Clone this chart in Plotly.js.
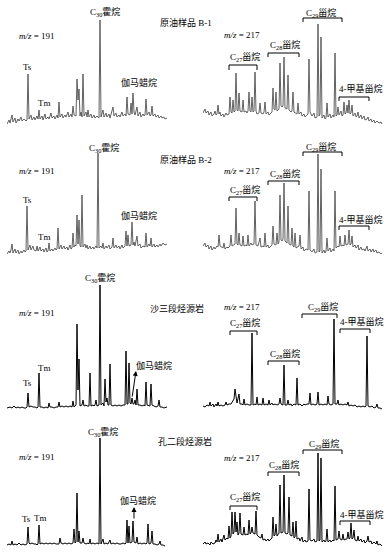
<!DOCTYPE html>
<html><head><meta charset="utf-8">
<script src="https://cdn.plot.ly/plotly-3.0.1.min.js"></script>
<style>html,body{margin:0;padding:0;background:#fff}#chart{width:390px;height:552px}</style>
</head><body><div id="chart"></div>
<script>
// Retention positions (arbitrary units) and relative intensities
// Row 1: crude oil B-1
const rtB1_191 = [0,2,3,5,6,8,9,11,12,14,15,17,19,20,21,22,24,25,27,28,30,31,32,33,35,36,38,39,41,42,44,45,47,48,50,51,52,53,55,56,58,59,61,62,64,65,66,67,69,70,71,72,73,74,75,76,77,79,80,81,82,84,85,87,88,90,92,93,94,95,96,97,99,100,102,103,105,106,107,109,110,112,113,115,116,118,119,120,121,123,124,125,126,127,128,130,131,133,134,136,137,138,139,140,142,143,144,145,146,148,149,151,152,154,155,157,158,160];
const inB1_191 = [2,6,3,11,4,8,3,7,5,9,5,7,5,6,52,7,11,6,9,6,10,7,16,7,10,6,12,7,9,7,13,8,10,7,11,8,24,9,12,8,11,9,14,9,12,9,20,11,10,47,26,37,10,14,9,52,10,14,9,16,9,12,8,11,8,10,8,106,9,12,16,9,13,9,12,8,14,19,10,13,9,11,9,14,10,12,10,29,12,11,23,12,33,14,11,19,10,14,9,12,10,11,27,11,14,10,11,20,10,12,9,11,8,10,8,9,7,8];
const rtB1_217 = [0,2,3,5,6,8,9,11,12,13,14,15,16,17,18,20,21,23,24,26,27,28,29,30,31,32,33,34,35,36,37,39,40,41,43,44,45,46,47,48,49,50,51,52,53,54,56,57,58,60,61,62,63,65,66,68,69,70,71,72,73,74,76,77,78,79,80,81,82,84,85,86,88,89,90,91,93,94,95,96,98,99,101,102,104,105,106,107,109,111,112,114,115,116,117,118,119,121,122,123,124,125,127,128,130,131,132,133,134,135,136,138,139,140,141,142,143,144,145,146,147,148,149,150,152,153,154,155,156,158,159,161,162,164,165,166,168,169,171,172,174,176,178,179];
const inB1_217 = [13,17,13,15,11,14,10,12,15,11,12,21,12,14,10,12,9,13,11,12,29,14,13,26,14,15,53,16,15,33,15,14,26,14,15,13,15,34,15,14,29,14,15,54,15,12,13,23,13,12,14,24,12,14,11,13,14,38,17,16,34,15,17,63,20,19,20,69,18,17,51,16,14,15,34,14,13,12,23,12,14,10,12,9,11,12,67,14,10,13,8,9,102,10,12,89,8,11,7,8,23,9,12,8,11,9,73,10,11,19,11,15,10,11,24,12,13,21,13,26,12,13,21,10,13,9,10,14,8,11,7,10,6,7,9,5,7,4,6,3,5,3,4,2];
// Row 2: crude oil B-2
const rtB2_191 = [0,2,3,4,5,6,8,9,11,12,14,15,17,18,19,20,21,23,24,26,27,29,30,31,33,34,36,37,39,40,41,42,43,45,46,48,49,50,51,52,54,55,57,58,60,61,63,64,65,66,67,68,69,70,71,72,73,74,75,76,78,79,80,81,83,84,86,87,89,90,91,92,94,95,96,97,99,100,102,103,105,106,107,109,110,112,113,115,116,118,119,120,121,122,124,125,126,127,128,130,131,133,134,136,138,139,140,142,143,144,145,147,148,150,151,153,154,156,158,160];
const inB2_191 = [4,7,5,8,14,5,9,5,8,4,7,5,8,6,7,52,8,13,8,12,8,7,12,7,11,7,9,6,10,6,7,15,7,9,7,10,8,9,30,9,13,9,12,9,11,8,13,9,10,25,11,13,12,43,14,38,12,11,63,11,14,10,13,9,12,9,11,9,12,10,105,10,12,10,15,9,12,10,13,9,11,20,10,13,10,12,9,13,10,12,27,12,23,12,13,36,13,16,12,22,12,14,10,12,11,25,11,14,12,20,11,14,11,13,11,14,12,15,13,14];
const rtB2_217 = [0,2,3,5,6,8,9,11,12,14,15,16,17,19,20,21,22,24,25,27,28,29,31,32,33,34,35,36,37,39,40,41,43,44,45,46,48,49,51,52,53,55,57,58,60,61,62,63,65,66,68,69,70,71,73,74,75,76,77,78,79,80,81,82,84,85,86,88,89,90,91,92,93,95,96,97,98,100,101,103,105,106,107,109,111,112,114,115,116,117,118,119,121,122,123,124,125,127,128,130,131,132,133,135,136,137,138,140,141,142,143,145,146,147,148,149,150,152,153,154,155,156,158,159,161,162,164,165,167,168,170,171,173,174,176,178,179];
const inB2_217 = [12,15,11,13,9,12,8,11,9,12,11,23,12,11,10,15,9,11,10,12,23,12,13,14,50,14,13,25,13,12,22,12,13,12,23,12,15,13,14,57,13,12,20,11,12,11,25,11,13,10,12,13,32,14,13,25,14,16,63,18,17,19,75,17,15,52,14,13,30,12,11,25,10,11,12,23,9,11,7,9,8,67,8,6,9,5,6,104,6,7,89,5,8,5,7,20,7,10,6,9,7,67,10,12,11,22,12,13,12,23,13,14,28,13,14,22,11,13,10,11,13,8,11,8,9,7,12,7,9,6,9,6,8,5,6,4,5];
// Row 3: Es3 source rock
const rtS3_191 = [0,3,5,7,9,11,13,15,17,19,20,21,22,24,26,28,30,31,32,33,35,37,39,41,42,43,45,47,49,51,52,53,55,57,59,61,63,65,66,67,68,69,70,71,72,73,75,76,77,79,80,82,83,84,86,87,88,89,90,91,92,93,94,96,97,98,99,100,101,102,103,104,106,108,110,112,114,116,118,119,120,121,122,123,124,125,126,127,128,129,130,131,133,135,137,138,139,140,142,143,144,145,147,149,151,152,153,155,157,160];
const inS3_191 = [2,3,2,4,2,3,2,3,2,2,3,17,3,4,3,3,2,3,37,3,3,2,3,2,7,3,3,2,3,3,8,3,4,3,4,3,4,3,9,3,4,5,86,20,51,4,5,10,4,5,4,4,37,4,5,4,5,10,4,5,5,125,5,7,4,31,8,12,5,5,46,5,4,5,4,5,4,5,5,59,6,6,47,7,6,12,6,6,10,5,21,5,5,4,5,4,28,5,4,4,26,5,4,3,4,10,3,3,2,3];
const rtS3_217 = [0,2,4,6,7,8,10,11,13,14,15,16,18,20,22,23,24,26,28,30,31,32,33,34,36,37,39,40,41,42,44,46,48,49,50,52,53,54,55,57,59,60,61,63,65,66,67,69,70,72,74,76,77,78,80,81,82,84,85,86,88,89,91,93,94,95,97,99,101,102,104,106,107,108,110,112,114,115,116,118,120,122,124,125,126,128,130,131,132,134,135,136,138,140,142,144,145,146,148,150,152,154,156,158,160,162,163,164,165,167,169,171,173,174,175,177,179];
const inS3_217 = [4,3,5,4,8,4,6,3,6,4,8,4,5,4,5,8,5,6,6,9,11,21,10,7,16,6,6,5,11,5,6,5,5,77,5,6,5,13,5,6,5,12,5,6,5,10,5,7,5,6,5,6,12,6,5,45,5,5,10,5,6,4,6,5,32,5,6,4,6,5,6,6,17,5,6,5,6,18,5,6,5,6,5,14,6,5,6,91,6,6,10,5,6,5,6,5,8,4,5,4,5,3,4,3,4,3,4,74,4,3,4,2,3,6,2,2,1];
// Row 4: Ek2 source rock
const rtK2_191 = [0,2,4,5,6,8,10,12,14,16,18,19,20,21,22,23,25,27,29,30,31,32,33,35,37,39,41,43,45,47,49,51,52,53,54,56,58,60,62,64,66,67,68,69,70,71,72,73,75,76,77,79,81,82,83,84,86,88,90,92,93,94,96,97,99,101,103,104,106,108,110,112,114,116,118,119,120,121,122,123,125,126,127,129,130,131,133,135,137,139,140,141,142,144,145,146,148,150,152,153,154,156,158];
const inK2_191 = [3,4,3,7,3,4,3,5,3,4,3,4,4,21,5,4,5,4,4,3,4,23,4,5,4,5,4,5,4,5,4,4,4,10,5,4,5,4,5,4,5,19,5,6,55,6,17,5,5,10,5,4,5,4,9,4,5,4,5,4,110,4,9,4,5,4,8,4,5,4,5,4,4,5,4,5,28,5,22,5,6,27,6,5,11,4,5,4,5,4,5,24,4,5,17,4,4,3,4,7,3,3,2];
const rtK2_217 = [0,2,3,5,7,8,10,12,13,14,15,16,18,19,21,22,24,25,26,27,28,29,30,31,32,33,34,35,36,37,38,40,41,42,44,45,46,47,48,49,50,52,53,54,56,58,59,60,62,63,65,66,68,69,70,71,72,73,74,76,77,78,80,81,82,84,85,86,87,89,90,91,92,93,94,96,97,99,100,102,103,105,106,107,109,111,112,114,115,116,117,118,119,121,122,123,124,125,127,128,130,131,132,133,135,136,137,139,140,141,143,144,145,146,147,148,149,150,151,152,154,155,156,158,159,161,162,164,165,166,168,169,171,173,174,175,177,179];
const inK2_217 = [4,6,4,5,3,6,4,5,8,6,14,6,9,6,13,8,10,9,22,10,12,36,14,16,36,16,26,13,15,35,14,13,21,13,14,13,28,14,15,21,15,14,37,13,11,10,14,8,9,7,9,7,9,10,31,12,13,24,12,15,63,15,16,73,15,14,15,51,13,12,26,10,11,27,9,10,7,11,6,8,6,7,59,8,7,9,6,7,95,7,8,90,6,8,6,7,19,6,8,6,8,7,62,8,9,17,9,8,14,8,9,9,16,9,10,25,9,10,18,8,7,12,7,9,6,8,5,7,12,6,7,4,6,4,7,3,4,2];

const sampleNames = ['原油样品 B-1','原油样品 B-2','沙三段烃源岩','孔二段烃源岩'];
const ionLabels = ['<i>m/z</i> = 191','<i>m/z</i> = 217'];

const W = 390, H = 552;
const FAMILY = "'Liberation Serif','Noto Sans CJK SC',serif";
const px = x => x / W, py = y => 1 - y / H;
const rows = [{top:10,bottom:126,color:'#505050',w:0.9},{top:140,bottom:258,color:'#505050',w:0.9},
              {top:280,bottom:410,color:'#000',w:1.0},{top:418,bottom:548,color:'#000',w:1.0}];
const cols = [{left:7,right:167},{left:203,right:383}];
const series = [[rtB1_191,inB1_191],[rtB1_217,inB1_217],[rtB2_191,inB2_191],[rtB2_217,inB2_217],
                [rtS3_191,inS3_191],[rtS3_217,inS3_217],[rtK2_191,inK2_191],[rtK2_217,inK2_217]];

const data = [], layout = {
  width: W, height: H, margin:{l:0,r:0,t:0,b:0}, showlegend:false,
  paper_bgcolor:'#fff', plot_bgcolor:'rgba(0,0,0,0)',
  font:{family:FAMILY, color:'#000', size:9},
  annotations:[], shapes:[]
};
series.forEach((s, k) => {
  const r = rows[Math.floor(k/2)], c = cols[k%2], n = k+1;
  const xa = n===1?'x':'x'+n, ya = n===1?'y':'y'+n;
  data.push({type:'scatter', mode:'lines', x:s[0], y:s[1], xaxis:xa, yaxis:ya,
    line:{color:r.color, width:r.w}, hoverinfo:'skip'});
  layout[n===1?'xaxis':'xaxis'+n] = {domain:[px(c.left),px(c.right)], range:[0,c.right-c.left], visible:false, anchor:ya};
  layout[n===1?'yaxis':'yaxis'+n] = {domain:[py(r.bottom),py(r.top)], range:[0,r.bottom-r.top], visible:false, anchor:xa};
});

function T(text, x, y, anchor, size){
  layout.annotations.push({text:text, xref:'paper', yref:'paper', x:px(x), y:py(y),
    xanchor:anchor||'left', yanchor:'middle', showarrow:false,
    font:{family:FAMILY, size:size||9, color:'#000'}});
}
function bracket(x1, x2, y, h){
  layout.shapes.push({type:'path', xref:'paper', yref:'paper',
    path:`M${px(x1)},${py(y+h)} L${px(x1)},${py(y)} L${px(x2)},${py(y)} L${px(x2)},${py(y+h)}`,
    line:{color:'#000', width:1}});
}
function arrow(xh, yh, xt, yt){
  layout.annotations.push({text:'', xref:'paper', yref:'paper', x:px(xh), y:py(yh),
    ax:xt-xh, ay:yt-yh, showarrow:true, arrowhead:2, arrowsize:1, arrowwidth:1,
    arrowcolor:'#000', standoff:0, startstandoff:0, font:{family:FAMILY, size:9, color:'#000'}});
}
const C30 = 'C<sub>30</sub>霍烷', GAM = '伽马蜡烷', ME4 = '4-甲基甾烷';
const st = n => `C<sub>${n}</sub>甾烷`;

// Row 1
T(C30,105,12,'center'); T(sampleNames[0],158,23); T(ionLabels[0],17,36);
T('Ts',27,67,'center'); T('Tm',36,103); T(GAM,119,82);
T(ionLabels[1],222,35); T(st(27),228,57); T(st(28),268,45); T(st(29),304,13); T(ME4,337,88);
bracket(229,257,65,5); bracket(268,299,53,4); bracket(303,342,18,4); bracket(339,369,97,4);
// Row 2
T(C30,104,148,'center'); T(sampleNames[1],158,159); T(ionLabels[0],17,171);
T('Ts',27,200,'center'); T('Tm',36,237); T(GAM,119,215);
T(ionLabels[1],222,171); T(st(27),228,190); T(st(28),268,174); T(st(29),304,147); T(ME4,337,219);
bracket(229,257,197,4); bracket(268,299,181,4); bracket(303,342,152,4); bracket(339,369,226,4);
// Row 3
T(C30,100,278,'center'); T(sampleNames[2],148,308); T(ionLabels[0],17,313);
T('Ts',27,383,'center'); T('Tm',36,368); T(GAM,134,365); arrow(136,371,132,398);
T(ionLabels[1],222,307); T(st(27),228,323); T(st(28),268,354); T(st(29),306,307); T(ME4,338,321);
bracket(230,257,331,4); bracket(268,299,361,4); bracket(302,337,314,4); bracket(340,370,329,4);
// Row 4
T(C30,103,432,'center'); T(sampleNames[3],156,441); T(ionLabels[0],17,457);
T('Ts',26,519,'center'); T('Tm',40,518,'center'); T(GAM,118,500); arrow(134,507,134,520);
T(ionLabels[1],222,458); T(st(27),228,497); T(st(28),267,465); T(st(29),307,444); T(ME4,338,514);
bracket(230,257,506,4); bracket(268,299,472,4); bracket(303,342,450,4); bracket(340,370,521,4);

Plotly.newPlot('chart', data, layout, {staticPlot:true, displayModeBar:false});
</script></body></html>
